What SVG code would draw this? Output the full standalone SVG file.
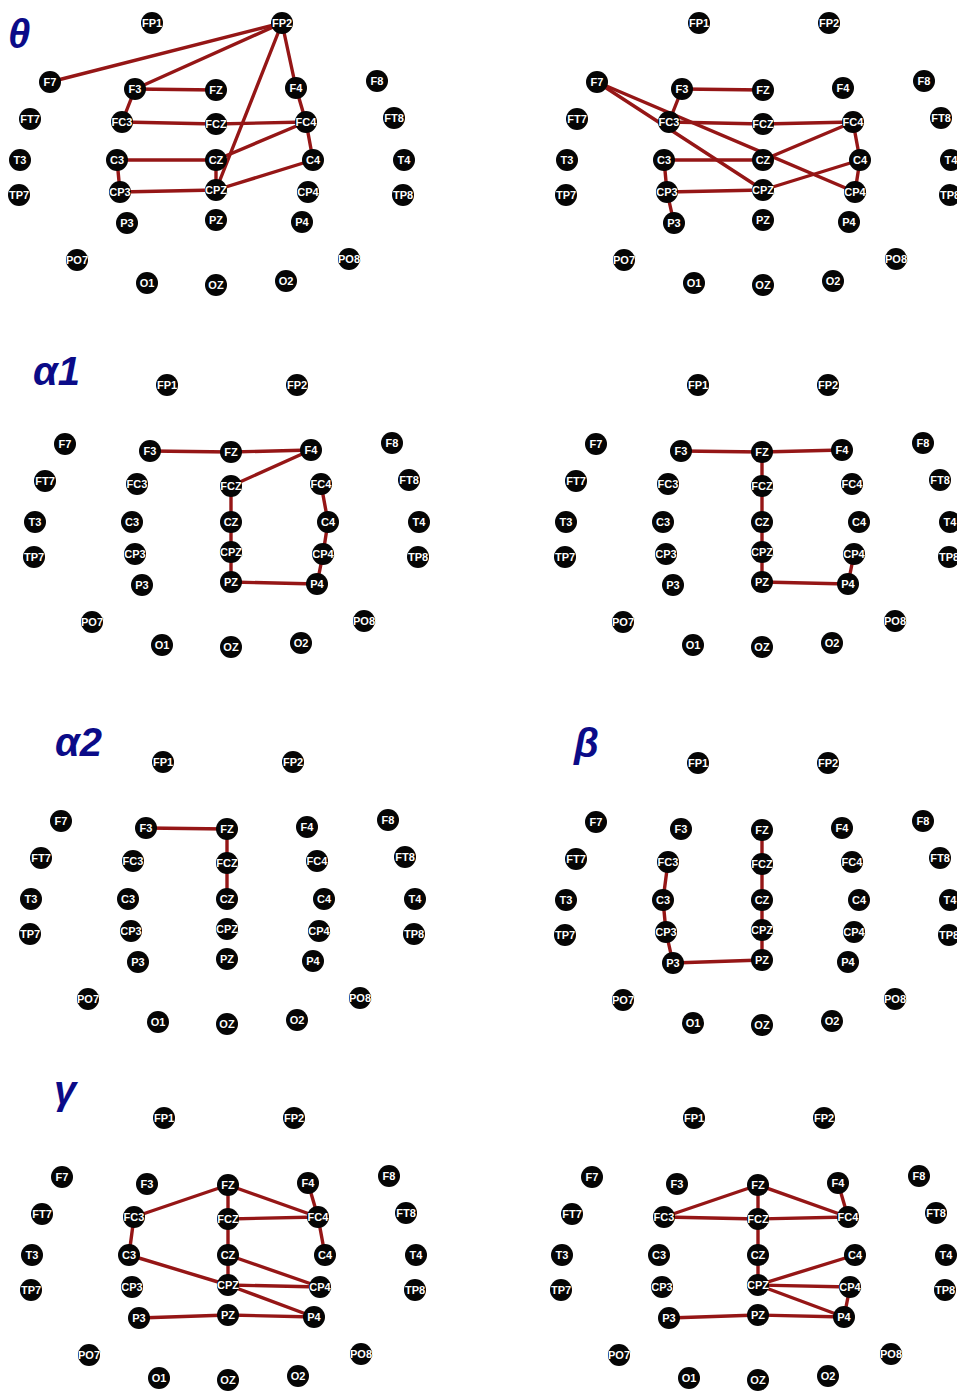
<svg xmlns="http://www.w3.org/2000/svg" width="957" height="1392" viewBox="0 0 957 1392">
<style>
.nd circle{fill:#050505}
.nd text{fill:#fff;font-family:"Liberation Sans",Arial,sans-serif;font-size:11px;font-weight:bold;text-anchor:middle;stroke:#000;stroke-width:0.6px;paint-order:stroke}
.ed line{stroke:#951616;stroke-width:3.4;stroke-linecap:round}
.lbl{fill:#0b0b88;font-family:"Liberation Sans",Arial,sans-serif;font-size:40px;font-weight:bold;font-style:italic}
</style>
<rect width="957" height="1392" fill="#fff"/>
<g id="labels">
<text class="lbl" x="8" y="48">θ</text>
<text class="lbl" x="33" y="385">α1</text>
<text class="lbl" x="55" y="756">α2</text>
<text class="lbl" x="574" y="757">β</text>
<text class="lbl" x="54" y="1104">γ</text>
</g>
<g id="connectors" class="ed">
<g id="e1" transform="translate(0,0)">
<line x1="282" y1="23" x2="50" y2="82"/>
<line x1="282" y1="23" x2="135" y2="89"/>
<line x1="282" y1="23" x2="296" y2="88"/>
<line x1="282" y1="23" x2="216" y2="190"/>
<line x1="135" y1="89" x2="216" y2="90"/>
<line x1="135" y1="89" x2="122" y2="122"/>
<line x1="122" y1="122" x2="216" y2="124"/>
<line x1="216" y1="124" x2="306" y2="122"/>
<line x1="296" y1="88" x2="306" y2="122"/>
<line x1="306" y1="122" x2="313" y2="160"/>
<line x1="306" y1="122" x2="216" y2="160"/>
<line x1="117" y1="160" x2="216" y2="160"/>
<line x1="117" y1="160" x2="120" y2="192"/>
<line x1="120" y1="192" x2="216" y2="190"/>
<line x1="216" y1="190" x2="313" y2="160"/>
<line x1="216" y1="160" x2="216" y2="190"/>
</g>
<g id="e2" transform="translate(547,0)">
<line x1="50" y1="82" x2="308" y2="192"/>
<line x1="50" y1="82" x2="216" y2="190"/>
<line x1="135" y1="89" x2="216" y2="90"/>
<line x1="135" y1="89" x2="122" y2="122"/>
<line x1="122" y1="122" x2="216" y2="124"/>
<line x1="216" y1="124" x2="306" y2="122"/>
<line x1="306" y1="122" x2="216" y2="160"/>
<line x1="306" y1="122" x2="313" y2="160"/>
<line x1="313" y1="160" x2="308" y2="192"/>
<line x1="313" y1="160" x2="216" y2="190"/>
<line x1="117" y1="160" x2="216" y2="160"/>
<line x1="117" y1="160" x2="120" y2="192"/>
<line x1="120" y1="192" x2="216" y2="190"/>
<line x1="120" y1="192" x2="127" y2="223"/>
</g>
<g id="e3" transform="translate(15,362)">
<line x1="135" y1="89" x2="216" y2="90"/>
<line x1="216" y1="90" x2="296" y2="88"/>
<line x1="296" y1="88" x2="216" y2="124"/>
<line x1="216" y1="124" x2="216" y2="160"/>
<line x1="216" y1="160" x2="216" y2="190"/>
<line x1="216" y1="190" x2="216" y2="220"/>
<line x1="216" y1="220" x2="302" y2="222"/>
<line x1="302" y1="222" x2="308" y2="192"/>
<line x1="308" y1="192" x2="313" y2="160"/>
<line x1="313" y1="160" x2="306" y2="122"/>
</g>
<g id="e4" transform="translate(546,362)">
<line x1="135" y1="89" x2="216" y2="90"/>
<line x1="216" y1="90" x2="296" y2="88"/>
<line x1="216" y1="90" x2="216" y2="124"/>
<line x1="216" y1="124" x2="216" y2="160"/>
<line x1="216" y1="160" x2="216" y2="190"/>
<line x1="216" y1="190" x2="216" y2="220"/>
<line x1="216" y1="220" x2="302" y2="222"/>
<line x1="302" y1="222" x2="308" y2="192"/>
</g>
<g id="e5" transform="translate(11,739)">
<line x1="135" y1="89" x2="216" y2="90"/>
<line x1="216" y1="90" x2="216" y2="124"/>
<line x1="216" y1="124" x2="216" y2="160"/>
</g>
<g id="e6" transform="translate(546,740)">
<line x1="216" y1="90" x2="216" y2="124"/>
<line x1="216" y1="124" x2="216" y2="160"/>
<line x1="216" y1="160" x2="216" y2="190"/>
<line x1="216" y1="190" x2="216" y2="220"/>
<line x1="216" y1="220" x2="127" y2="223"/>
<line x1="127" y1="223" x2="120" y2="192"/>
<line x1="120" y1="192" x2="117" y2="160"/>
<line x1="117" y1="160" x2="122" y2="122"/>
</g>
<g id="e7" transform="translate(12,1095)">
<line x1="216" y1="90" x2="122" y2="122"/>
<line x1="216" y1="90" x2="216" y2="124"/>
<line x1="216" y1="90" x2="306" y2="122"/>
<line x1="296" y1="88" x2="306" y2="122"/>
<line x1="216" y1="124" x2="306" y2="122"/>
<line x1="122" y1="122" x2="117" y2="160"/>
<line x1="216" y1="124" x2="216" y2="160"/>
<line x1="216" y1="160" x2="216" y2="190"/>
<line x1="306" y1="122" x2="313" y2="160"/>
<line x1="117" y1="160" x2="216" y2="190"/>
<line x1="216" y1="160" x2="308" y2="192"/>
<line x1="216" y1="190" x2="308" y2="192"/>
<line x1="216" y1="190" x2="302" y2="222"/>
<line x1="127" y1="223" x2="216" y2="220"/>
<line x1="216" y1="220" x2="302" y2="222"/>
</g>
<g id="e8" transform="translate(542,1095)">
<line x1="216" y1="90" x2="122" y2="122"/>
<line x1="216" y1="90" x2="216" y2="124"/>
<line x1="216" y1="90" x2="306" y2="122"/>
<line x1="296" y1="88" x2="306" y2="122"/>
<line x1="122" y1="122" x2="216" y2="124"/>
<line x1="216" y1="124" x2="306" y2="122"/>
<line x1="216" y1="124" x2="216" y2="160"/>
<line x1="216" y1="160" x2="216" y2="190"/>
<line x1="216" y1="190" x2="313" y2="160"/>
<line x1="216" y1="190" x2="308" y2="192"/>
<line x1="216" y1="190" x2="302" y2="222"/>
<line x1="308" y1="192" x2="302" y2="222"/>
<line x1="127" y1="223" x2="216" y2="220"/>
<line x1="216" y1="220" x2="302" y2="222"/>
</g>
</g>
<g id="panel1" transform="translate(0,0)">
<g id="n1-FP1" class="nd" transform="translate(152,23)"><circle r="11"/><text y="4">FP1</text></g>
<g id="n1-FP2" class="nd" transform="translate(282,23)"><circle r="11"/><text y="4">FP2</text></g>
<g id="n1-F7" class="nd" transform="translate(50,82)"><circle r="11"/><text y="4">F7</text></g>
<g id="n1-F3" class="nd" transform="translate(135,89)"><circle r="11"/><text y="4">F3</text></g>
<g id="n1-FZ" class="nd" transform="translate(216,90)"><circle r="11"/><text y="4">FZ</text></g>
<g id="n1-F4" class="nd" transform="translate(296,88)"><circle r="11"/><text y="4">F4</text></g>
<g id="n1-F8" class="nd" transform="translate(377,81)"><circle r="11"/><text y="4">F8</text></g>
<g id="n1-FT7" class="nd" transform="translate(30,119)"><circle r="11"/><text y="4">FT7</text></g>
<g id="n1-FC3" class="nd" transform="translate(122,122)"><circle r="11"/><text y="4">FC3</text></g>
<g id="n1-FCZ" class="nd" transform="translate(216,124)"><circle r="11"/><text y="4">FCZ</text></g>
<g id="n1-FC4" class="nd" transform="translate(306,122)"><circle r="11"/><text y="4">FC4</text></g>
<g id="n1-FT8" class="nd" transform="translate(394,118)"><circle r="11"/><text y="4">FT8</text></g>
<g id="n1-T3" class="nd" transform="translate(20,160)"><circle r="11"/><text y="4">T3</text></g>
<g id="n1-C3" class="nd" transform="translate(117,160)"><circle r="11"/><text y="4">C3</text></g>
<g id="n1-CZ" class="nd" transform="translate(216,160)"><circle r="11"/><text y="4">CZ</text></g>
<g id="n1-C4" class="nd" transform="translate(313,160)"><circle r="11"/><text y="4">C4</text></g>
<g id="n1-T4" class="nd" transform="translate(404,160)"><circle r="11"/><text y="4">T4</text></g>
<g id="n1-TP7" class="nd" transform="translate(19,195)"><circle r="11"/><text y="4">TP7</text></g>
<g id="n1-CP3" class="nd" transform="translate(120,192)"><circle r="11"/><text y="4">CP3</text></g>
<g id="n1-CPZ" class="nd" transform="translate(216,190)"><circle r="11"/><text y="4">CPZ</text></g>
<g id="n1-CP4" class="nd" transform="translate(308,192)"><circle r="11"/><text y="4">CP4</text></g>
<g id="n1-TP8" class="nd" transform="translate(403,195)"><circle r="11"/><text y="4">TP8</text></g>
<g id="n1-P3" class="nd" transform="translate(127,223)"><circle r="11"/><text y="4">P3</text></g>
<g id="n1-PZ" class="nd" transform="translate(216,220)"><circle r="11"/><text y="4">PZ</text></g>
<g id="n1-P4" class="nd" transform="translate(302,222)"><circle r="11"/><text y="4">P4</text></g>
<g id="n1-PO7" class="nd" transform="translate(77,260)"><circle r="11"/><text y="4">PO7</text></g>
<g id="n1-PO8" class="nd" transform="translate(349,259)"><circle r="11"/><text y="4">PO8</text></g>
<g id="n1-O1" class="nd" transform="translate(147,283)"><circle r="11"/><text y="4">O1</text></g>
<g id="n1-OZ" class="nd" transform="translate(216,285)"><circle r="11"/><text y="4">OZ</text></g>
<g id="n1-O2" class="nd" transform="translate(286,281)"><circle r="11"/><text y="4">O2</text></g>
</g>
<g id="panel2" transform="translate(547,0)">
<g id="n2-FP1" class="nd" transform="translate(152,23)"><circle r="11"/><text y="4">FP1</text></g>
<g id="n2-FP2" class="nd" transform="translate(282,23)"><circle r="11"/><text y="4">FP2</text></g>
<g id="n2-F7" class="nd" transform="translate(50,82)"><circle r="11"/><text y="4">F7</text></g>
<g id="n2-F3" class="nd" transform="translate(135,89)"><circle r="11"/><text y="4">F3</text></g>
<g id="n2-FZ" class="nd" transform="translate(216,90)"><circle r="11"/><text y="4">FZ</text></g>
<g id="n2-F4" class="nd" transform="translate(296,88)"><circle r="11"/><text y="4">F4</text></g>
<g id="n2-F8" class="nd" transform="translate(377,81)"><circle r="11"/><text y="4">F8</text></g>
<g id="n2-FT7" class="nd" transform="translate(30,119)"><circle r="11"/><text y="4">FT7</text></g>
<g id="n2-FC3" class="nd" transform="translate(122,122)"><circle r="11"/><text y="4">FC3</text></g>
<g id="n2-FCZ" class="nd" transform="translate(216,124)"><circle r="11"/><text y="4">FCZ</text></g>
<g id="n2-FC4" class="nd" transform="translate(306,122)"><circle r="11"/><text y="4">FC4</text></g>
<g id="n2-FT8" class="nd" transform="translate(394,118)"><circle r="11"/><text y="4">FT8</text></g>
<g id="n2-T3" class="nd" transform="translate(20,160)"><circle r="11"/><text y="4">T3</text></g>
<g id="n2-C3" class="nd" transform="translate(117,160)"><circle r="11"/><text y="4">C3</text></g>
<g id="n2-CZ" class="nd" transform="translate(216,160)"><circle r="11"/><text y="4">CZ</text></g>
<g id="n2-C4" class="nd" transform="translate(313,160)"><circle r="11"/><text y="4">C4</text></g>
<g id="n2-T4" class="nd" transform="translate(404,160)"><circle r="11"/><text y="4">T4</text></g>
<g id="n2-TP7" class="nd" transform="translate(19,195)"><circle r="11"/><text y="4">TP7</text></g>
<g id="n2-CP3" class="nd" transform="translate(120,192)"><circle r="11"/><text y="4">CP3</text></g>
<g id="n2-CPZ" class="nd" transform="translate(216,190)"><circle r="11"/><text y="4">CPZ</text></g>
<g id="n2-CP4" class="nd" transform="translate(308,192)"><circle r="11"/><text y="4">CP4</text></g>
<g id="n2-TP8" class="nd" transform="translate(403,195)"><circle r="11"/><text y="4">TP8</text></g>
<g id="n2-P3" class="nd" transform="translate(127,223)"><circle r="11"/><text y="4">P3</text></g>
<g id="n2-PZ" class="nd" transform="translate(216,220)"><circle r="11"/><text y="4">PZ</text></g>
<g id="n2-P4" class="nd" transform="translate(302,222)"><circle r="11"/><text y="4">P4</text></g>
<g id="n2-PO7" class="nd" transform="translate(77,260)"><circle r="11"/><text y="4">PO7</text></g>
<g id="n2-PO8" class="nd" transform="translate(349,259)"><circle r="11"/><text y="4">PO8</text></g>
<g id="n2-O1" class="nd" transform="translate(147,283)"><circle r="11"/><text y="4">O1</text></g>
<g id="n2-OZ" class="nd" transform="translate(216,285)"><circle r="11"/><text y="4">OZ</text></g>
<g id="n2-O2" class="nd" transform="translate(286,281)"><circle r="11"/><text y="4">O2</text></g>
</g>
<g id="panel3" transform="translate(15,362)">
<g id="n3-FP1" class="nd" transform="translate(152,23)"><circle r="11"/><text y="4">FP1</text></g>
<g id="n3-FP2" class="nd" transform="translate(282,23)"><circle r="11"/><text y="4">FP2</text></g>
<g id="n3-F7" class="nd" transform="translate(50,82)"><circle r="11"/><text y="4">F7</text></g>
<g id="n3-F3" class="nd" transform="translate(135,89)"><circle r="11"/><text y="4">F3</text></g>
<g id="n3-FZ" class="nd" transform="translate(216,90)"><circle r="11"/><text y="4">FZ</text></g>
<g id="n3-F4" class="nd" transform="translate(296,88)"><circle r="11"/><text y="4">F4</text></g>
<g id="n3-F8" class="nd" transform="translate(377,81)"><circle r="11"/><text y="4">F8</text></g>
<g id="n3-FT7" class="nd" transform="translate(30,119)"><circle r="11"/><text y="4">FT7</text></g>
<g id="n3-FC3" class="nd" transform="translate(122,122)"><circle r="11"/><text y="4">FC3</text></g>
<g id="n3-FCZ" class="nd" transform="translate(216,124)"><circle r="11"/><text y="4">FCZ</text></g>
<g id="n3-FC4" class="nd" transform="translate(306,122)"><circle r="11"/><text y="4">FC4</text></g>
<g id="n3-FT8" class="nd" transform="translate(394,118)"><circle r="11"/><text y="4">FT8</text></g>
<g id="n3-T3" class="nd" transform="translate(20,160)"><circle r="11"/><text y="4">T3</text></g>
<g id="n3-C3" class="nd" transform="translate(117,160)"><circle r="11"/><text y="4">C3</text></g>
<g id="n3-CZ" class="nd" transform="translate(216,160)"><circle r="11"/><text y="4">CZ</text></g>
<g id="n3-C4" class="nd" transform="translate(313,160)"><circle r="11"/><text y="4">C4</text></g>
<g id="n3-T4" class="nd" transform="translate(404,160)"><circle r="11"/><text y="4">T4</text></g>
<g id="n3-TP7" class="nd" transform="translate(19,195)"><circle r="11"/><text y="4">TP7</text></g>
<g id="n3-CP3" class="nd" transform="translate(120,192)"><circle r="11"/><text y="4">CP3</text></g>
<g id="n3-CPZ" class="nd" transform="translate(216,190)"><circle r="11"/><text y="4">CPZ</text></g>
<g id="n3-CP4" class="nd" transform="translate(308,192)"><circle r="11"/><text y="4">CP4</text></g>
<g id="n3-TP8" class="nd" transform="translate(403,195)"><circle r="11"/><text y="4">TP8</text></g>
<g id="n3-P3" class="nd" transform="translate(127,223)"><circle r="11"/><text y="4">P3</text></g>
<g id="n3-PZ" class="nd" transform="translate(216,220)"><circle r="11"/><text y="4">PZ</text></g>
<g id="n3-P4" class="nd" transform="translate(302,222)"><circle r="11"/><text y="4">P4</text></g>
<g id="n3-PO7" class="nd" transform="translate(77,260)"><circle r="11"/><text y="4">PO7</text></g>
<g id="n3-PO8" class="nd" transform="translate(349,259)"><circle r="11"/><text y="4">PO8</text></g>
<g id="n3-O1" class="nd" transform="translate(147,283)"><circle r="11"/><text y="4">O1</text></g>
<g id="n3-OZ" class="nd" transform="translate(216,285)"><circle r="11"/><text y="4">OZ</text></g>
<g id="n3-O2" class="nd" transform="translate(286,281)"><circle r="11"/><text y="4">O2</text></g>
</g>
<g id="panel4" transform="translate(546,362)">
<g id="n4-FP1" class="nd" transform="translate(152,23)"><circle r="11"/><text y="4">FP1</text></g>
<g id="n4-FP2" class="nd" transform="translate(282,23)"><circle r="11"/><text y="4">FP2</text></g>
<g id="n4-F7" class="nd" transform="translate(50,82)"><circle r="11"/><text y="4">F7</text></g>
<g id="n4-F3" class="nd" transform="translate(135,89)"><circle r="11"/><text y="4">F3</text></g>
<g id="n4-FZ" class="nd" transform="translate(216,90)"><circle r="11"/><text y="4">FZ</text></g>
<g id="n4-F4" class="nd" transform="translate(296,88)"><circle r="11"/><text y="4">F4</text></g>
<g id="n4-F8" class="nd" transform="translate(377,81)"><circle r="11"/><text y="4">F8</text></g>
<g id="n4-FT7" class="nd" transform="translate(30,119)"><circle r="11"/><text y="4">FT7</text></g>
<g id="n4-FC3" class="nd" transform="translate(122,122)"><circle r="11"/><text y="4">FC3</text></g>
<g id="n4-FCZ" class="nd" transform="translate(216,124)"><circle r="11"/><text y="4">FCZ</text></g>
<g id="n4-FC4" class="nd" transform="translate(306,122)"><circle r="11"/><text y="4">FC4</text></g>
<g id="n4-FT8" class="nd" transform="translate(394,118)"><circle r="11"/><text y="4">FT8</text></g>
<g id="n4-T3" class="nd" transform="translate(20,160)"><circle r="11"/><text y="4">T3</text></g>
<g id="n4-C3" class="nd" transform="translate(117,160)"><circle r="11"/><text y="4">C3</text></g>
<g id="n4-CZ" class="nd" transform="translate(216,160)"><circle r="11"/><text y="4">CZ</text></g>
<g id="n4-C4" class="nd" transform="translate(313,160)"><circle r="11"/><text y="4">C4</text></g>
<g id="n4-T4" class="nd" transform="translate(404,160)"><circle r="11"/><text y="4">T4</text></g>
<g id="n4-TP7" class="nd" transform="translate(19,195)"><circle r="11"/><text y="4">TP7</text></g>
<g id="n4-CP3" class="nd" transform="translate(120,192)"><circle r="11"/><text y="4">CP3</text></g>
<g id="n4-CPZ" class="nd" transform="translate(216,190)"><circle r="11"/><text y="4">CPZ</text></g>
<g id="n4-CP4" class="nd" transform="translate(308,192)"><circle r="11"/><text y="4">CP4</text></g>
<g id="n4-TP8" class="nd" transform="translate(403,195)"><circle r="11"/><text y="4">TP8</text></g>
<g id="n4-P3" class="nd" transform="translate(127,223)"><circle r="11"/><text y="4">P3</text></g>
<g id="n4-PZ" class="nd" transform="translate(216,220)"><circle r="11"/><text y="4">PZ</text></g>
<g id="n4-P4" class="nd" transform="translate(302,222)"><circle r="11"/><text y="4">P4</text></g>
<g id="n4-PO7" class="nd" transform="translate(77,260)"><circle r="11"/><text y="4">PO7</text></g>
<g id="n4-PO8" class="nd" transform="translate(349,259)"><circle r="11"/><text y="4">PO8</text></g>
<g id="n4-O1" class="nd" transform="translate(147,283)"><circle r="11"/><text y="4">O1</text></g>
<g id="n4-OZ" class="nd" transform="translate(216,285)"><circle r="11"/><text y="4">OZ</text></g>
<g id="n4-O2" class="nd" transform="translate(286,281)"><circle r="11"/><text y="4">O2</text></g>
</g>
<g id="panel5" transform="translate(11,739)">
<g id="n5-FP1" class="nd" transform="translate(152,23)"><circle r="11"/><text y="4">FP1</text></g>
<g id="n5-FP2" class="nd" transform="translate(282,23)"><circle r="11"/><text y="4">FP2</text></g>
<g id="n5-F7" class="nd" transform="translate(50,82)"><circle r="11"/><text y="4">F7</text></g>
<g id="n5-F3" class="nd" transform="translate(135,89)"><circle r="11"/><text y="4">F3</text></g>
<g id="n5-FZ" class="nd" transform="translate(216,90)"><circle r="11"/><text y="4">FZ</text></g>
<g id="n5-F4" class="nd" transform="translate(296,88)"><circle r="11"/><text y="4">F4</text></g>
<g id="n5-F8" class="nd" transform="translate(377,81)"><circle r="11"/><text y="4">F8</text></g>
<g id="n5-FT7" class="nd" transform="translate(30,119)"><circle r="11"/><text y="4">FT7</text></g>
<g id="n5-FC3" class="nd" transform="translate(122,122)"><circle r="11"/><text y="4">FC3</text></g>
<g id="n5-FCZ" class="nd" transform="translate(216,124)"><circle r="11"/><text y="4">FCZ</text></g>
<g id="n5-FC4" class="nd" transform="translate(306,122)"><circle r="11"/><text y="4">FC4</text></g>
<g id="n5-FT8" class="nd" transform="translate(394,118)"><circle r="11"/><text y="4">FT8</text></g>
<g id="n5-T3" class="nd" transform="translate(20,160)"><circle r="11"/><text y="4">T3</text></g>
<g id="n5-C3" class="nd" transform="translate(117,160)"><circle r="11"/><text y="4">C3</text></g>
<g id="n5-CZ" class="nd" transform="translate(216,160)"><circle r="11"/><text y="4">CZ</text></g>
<g id="n5-C4" class="nd" transform="translate(313,160)"><circle r="11"/><text y="4">C4</text></g>
<g id="n5-T4" class="nd" transform="translate(404,160)"><circle r="11"/><text y="4">T4</text></g>
<g id="n5-TP7" class="nd" transform="translate(19,195)"><circle r="11"/><text y="4">TP7</text></g>
<g id="n5-CP3" class="nd" transform="translate(120,192)"><circle r="11"/><text y="4">CP3</text></g>
<g id="n5-CPZ" class="nd" transform="translate(216,190)"><circle r="11"/><text y="4">CPZ</text></g>
<g id="n5-CP4" class="nd" transform="translate(308,192)"><circle r="11"/><text y="4">CP4</text></g>
<g id="n5-TP8" class="nd" transform="translate(403,195)"><circle r="11"/><text y="4">TP8</text></g>
<g id="n5-P3" class="nd" transform="translate(127,223)"><circle r="11"/><text y="4">P3</text></g>
<g id="n5-PZ" class="nd" transform="translate(216,220)"><circle r="11"/><text y="4">PZ</text></g>
<g id="n5-P4" class="nd" transform="translate(302,222)"><circle r="11"/><text y="4">P4</text></g>
<g id="n5-PO7" class="nd" transform="translate(77,260)"><circle r="11"/><text y="4">PO7</text></g>
<g id="n5-PO8" class="nd" transform="translate(349,259)"><circle r="11"/><text y="4">PO8</text></g>
<g id="n5-O1" class="nd" transform="translate(147,283)"><circle r="11"/><text y="4">O1</text></g>
<g id="n5-OZ" class="nd" transform="translate(216,285)"><circle r="11"/><text y="4">OZ</text></g>
<g id="n5-O2" class="nd" transform="translate(286,281)"><circle r="11"/><text y="4">O2</text></g>
</g>
<g id="panel6" transform="translate(546,740)">
<g id="n6-FP1" class="nd" transform="translate(152,23)"><circle r="11"/><text y="4">FP1</text></g>
<g id="n6-FP2" class="nd" transform="translate(282,23)"><circle r="11"/><text y="4">FP2</text></g>
<g id="n6-F7" class="nd" transform="translate(50,82)"><circle r="11"/><text y="4">F7</text></g>
<g id="n6-F3" class="nd" transform="translate(135,89)"><circle r="11"/><text y="4">F3</text></g>
<g id="n6-FZ" class="nd" transform="translate(216,90)"><circle r="11"/><text y="4">FZ</text></g>
<g id="n6-F4" class="nd" transform="translate(296,88)"><circle r="11"/><text y="4">F4</text></g>
<g id="n6-F8" class="nd" transform="translate(377,81)"><circle r="11"/><text y="4">F8</text></g>
<g id="n6-FT7" class="nd" transform="translate(30,119)"><circle r="11"/><text y="4">FT7</text></g>
<g id="n6-FC3" class="nd" transform="translate(122,122)"><circle r="11"/><text y="4">FC3</text></g>
<g id="n6-FCZ" class="nd" transform="translate(216,124)"><circle r="11"/><text y="4">FCZ</text></g>
<g id="n6-FC4" class="nd" transform="translate(306,122)"><circle r="11"/><text y="4">FC4</text></g>
<g id="n6-FT8" class="nd" transform="translate(394,118)"><circle r="11"/><text y="4">FT8</text></g>
<g id="n6-T3" class="nd" transform="translate(20,160)"><circle r="11"/><text y="4">T3</text></g>
<g id="n6-C3" class="nd" transform="translate(117,160)"><circle r="11"/><text y="4">C3</text></g>
<g id="n6-CZ" class="nd" transform="translate(216,160)"><circle r="11"/><text y="4">CZ</text></g>
<g id="n6-C4" class="nd" transform="translate(313,160)"><circle r="11"/><text y="4">C4</text></g>
<g id="n6-T4" class="nd" transform="translate(404,160)"><circle r="11"/><text y="4">T4</text></g>
<g id="n6-TP7" class="nd" transform="translate(19,195)"><circle r="11"/><text y="4">TP7</text></g>
<g id="n6-CP3" class="nd" transform="translate(120,192)"><circle r="11"/><text y="4">CP3</text></g>
<g id="n6-CPZ" class="nd" transform="translate(216,190)"><circle r="11"/><text y="4">CPZ</text></g>
<g id="n6-CP4" class="nd" transform="translate(308,192)"><circle r="11"/><text y="4">CP4</text></g>
<g id="n6-TP8" class="nd" transform="translate(403,195)"><circle r="11"/><text y="4">TP8</text></g>
<g id="n6-P3" class="nd" transform="translate(127,223)"><circle r="11"/><text y="4">P3</text></g>
<g id="n6-PZ" class="nd" transform="translate(216,220)"><circle r="11"/><text y="4">PZ</text></g>
<g id="n6-P4" class="nd" transform="translate(302,222)"><circle r="11"/><text y="4">P4</text></g>
<g id="n6-PO7" class="nd" transform="translate(77,260)"><circle r="11"/><text y="4">PO7</text></g>
<g id="n6-PO8" class="nd" transform="translate(349,259)"><circle r="11"/><text y="4">PO8</text></g>
<g id="n6-O1" class="nd" transform="translate(147,283)"><circle r="11"/><text y="4">O1</text></g>
<g id="n6-OZ" class="nd" transform="translate(216,285)"><circle r="11"/><text y="4">OZ</text></g>
<g id="n6-O2" class="nd" transform="translate(286,281)"><circle r="11"/><text y="4">O2</text></g>
</g>
<g id="panel7" transform="translate(12,1095)">
<g id="n7-FP1" class="nd" transform="translate(152,23)"><circle r="11"/><text y="4">FP1</text></g>
<g id="n7-FP2" class="nd" transform="translate(282,23)"><circle r="11"/><text y="4">FP2</text></g>
<g id="n7-F7" class="nd" transform="translate(50,82)"><circle r="11"/><text y="4">F7</text></g>
<g id="n7-F3" class="nd" transform="translate(135,89)"><circle r="11"/><text y="4">F3</text></g>
<g id="n7-FZ" class="nd" transform="translate(216,90)"><circle r="11"/><text y="4">FZ</text></g>
<g id="n7-F4" class="nd" transform="translate(296,88)"><circle r="11"/><text y="4">F4</text></g>
<g id="n7-F8" class="nd" transform="translate(377,81)"><circle r="11"/><text y="4">F8</text></g>
<g id="n7-FT7" class="nd" transform="translate(30,119)"><circle r="11"/><text y="4">FT7</text></g>
<g id="n7-FC3" class="nd" transform="translate(122,122)"><circle r="11"/><text y="4">FC3</text></g>
<g id="n7-FCZ" class="nd" transform="translate(216,124)"><circle r="11"/><text y="4">FCZ</text></g>
<g id="n7-FC4" class="nd" transform="translate(306,122)"><circle r="11"/><text y="4">FC4</text></g>
<g id="n7-FT8" class="nd" transform="translate(394,118)"><circle r="11"/><text y="4">FT8</text></g>
<g id="n7-T3" class="nd" transform="translate(20,160)"><circle r="11"/><text y="4">T3</text></g>
<g id="n7-C3" class="nd" transform="translate(117,160)"><circle r="11"/><text y="4">C3</text></g>
<g id="n7-CZ" class="nd" transform="translate(216,160)"><circle r="11"/><text y="4">CZ</text></g>
<g id="n7-C4" class="nd" transform="translate(313,160)"><circle r="11"/><text y="4">C4</text></g>
<g id="n7-T4" class="nd" transform="translate(404,160)"><circle r="11"/><text y="4">T4</text></g>
<g id="n7-TP7" class="nd" transform="translate(19,195)"><circle r="11"/><text y="4">TP7</text></g>
<g id="n7-CP3" class="nd" transform="translate(120,192)"><circle r="11"/><text y="4">CP3</text></g>
<g id="n7-CPZ" class="nd" transform="translate(216,190)"><circle r="11"/><text y="4">CPZ</text></g>
<g id="n7-CP4" class="nd" transform="translate(308,192)"><circle r="11"/><text y="4">CP4</text></g>
<g id="n7-TP8" class="nd" transform="translate(403,195)"><circle r="11"/><text y="4">TP8</text></g>
<g id="n7-P3" class="nd" transform="translate(127,223)"><circle r="11"/><text y="4">P3</text></g>
<g id="n7-PZ" class="nd" transform="translate(216,220)"><circle r="11"/><text y="4">PZ</text></g>
<g id="n7-P4" class="nd" transform="translate(302,222)"><circle r="11"/><text y="4">P4</text></g>
<g id="n7-PO7" class="nd" transform="translate(77,260)"><circle r="11"/><text y="4">PO7</text></g>
<g id="n7-PO8" class="nd" transform="translate(349,259)"><circle r="11"/><text y="4">PO8</text></g>
<g id="n7-O1" class="nd" transform="translate(147,283)"><circle r="11"/><text y="4">O1</text></g>
<g id="n7-OZ" class="nd" transform="translate(216,285)"><circle r="11"/><text y="4">OZ</text></g>
<g id="n7-O2" class="nd" transform="translate(286,281)"><circle r="11"/><text y="4">O2</text></g>
</g>
<g id="panel8" transform="translate(542,1095)">
<g id="n8-FP1" class="nd" transform="translate(152,23)"><circle r="11"/><text y="4">FP1</text></g>
<g id="n8-FP2" class="nd" transform="translate(282,23)"><circle r="11"/><text y="4">FP2</text></g>
<g id="n8-F7" class="nd" transform="translate(50,82)"><circle r="11"/><text y="4">F7</text></g>
<g id="n8-F3" class="nd" transform="translate(135,89)"><circle r="11"/><text y="4">F3</text></g>
<g id="n8-FZ" class="nd" transform="translate(216,90)"><circle r="11"/><text y="4">FZ</text></g>
<g id="n8-F4" class="nd" transform="translate(296,88)"><circle r="11"/><text y="4">F4</text></g>
<g id="n8-F8" class="nd" transform="translate(377,81)"><circle r="11"/><text y="4">F8</text></g>
<g id="n8-FT7" class="nd" transform="translate(30,119)"><circle r="11"/><text y="4">FT7</text></g>
<g id="n8-FC3" class="nd" transform="translate(122,122)"><circle r="11"/><text y="4">FC3</text></g>
<g id="n8-FCZ" class="nd" transform="translate(216,124)"><circle r="11"/><text y="4">FCZ</text></g>
<g id="n8-FC4" class="nd" transform="translate(306,122)"><circle r="11"/><text y="4">FC4</text></g>
<g id="n8-FT8" class="nd" transform="translate(394,118)"><circle r="11"/><text y="4">FT8</text></g>
<g id="n8-T3" class="nd" transform="translate(20,160)"><circle r="11"/><text y="4">T3</text></g>
<g id="n8-C3" class="nd" transform="translate(117,160)"><circle r="11"/><text y="4">C3</text></g>
<g id="n8-CZ" class="nd" transform="translate(216,160)"><circle r="11"/><text y="4">CZ</text></g>
<g id="n8-C4" class="nd" transform="translate(313,160)"><circle r="11"/><text y="4">C4</text></g>
<g id="n8-T4" class="nd" transform="translate(404,160)"><circle r="11"/><text y="4">T4</text></g>
<g id="n8-TP7" class="nd" transform="translate(19,195)"><circle r="11"/><text y="4">TP7</text></g>
<g id="n8-CP3" class="nd" transform="translate(120,192)"><circle r="11"/><text y="4">CP3</text></g>
<g id="n8-CPZ" class="nd" transform="translate(216,190)"><circle r="11"/><text y="4">CPZ</text></g>
<g id="n8-CP4" class="nd" transform="translate(308,192)"><circle r="11"/><text y="4">CP4</text></g>
<g id="n8-TP8" class="nd" transform="translate(403,195)"><circle r="11"/><text y="4">TP8</text></g>
<g id="n8-P3" class="nd" transform="translate(127,223)"><circle r="11"/><text y="4">P3</text></g>
<g id="n8-PZ" class="nd" transform="translate(216,220)"><circle r="11"/><text y="4">PZ</text></g>
<g id="n8-P4" class="nd" transform="translate(302,222)"><circle r="11"/><text y="4">P4</text></g>
<g id="n8-PO7" class="nd" transform="translate(77,260)"><circle r="11"/><text y="4">PO7</text></g>
<g id="n8-PO8" class="nd" transform="translate(349,259)"><circle r="11"/><text y="4">PO8</text></g>
<g id="n8-O1" class="nd" transform="translate(147,283)"><circle r="11"/><text y="4">O1</text></g>
<g id="n8-OZ" class="nd" transform="translate(216,285)"><circle r="11"/><text y="4">OZ</text></g>
<g id="n8-O2" class="nd" transform="translate(286,281)"><circle r="11"/><text y="4">O2</text></g>
</g>
</svg>
